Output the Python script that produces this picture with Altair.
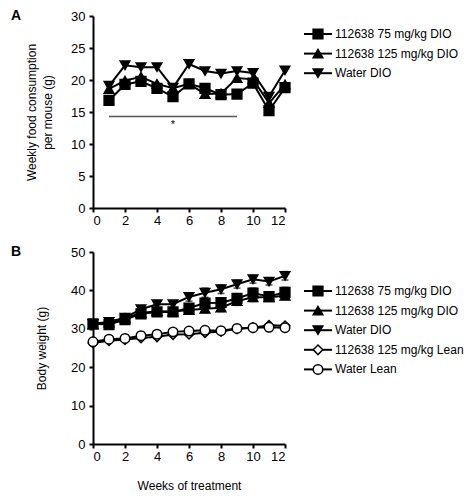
import altair as alt
import pandas as pd

FONT = "Liberation Sans"

# ---------------- Panel A data: weekly food consumption (g) ----------------
weeks_a = list(range(1, 13))
food_75 = [16.8, 19.3, 19.8, 18.7, 17.4, 19.4, 18.7, 17.7, 17.8, 19.5, 15.2, 18.8]
food_125 = [18.6, 19.9, 20.5, 19.4, 18.7, 19.4, 17.8, 17.9, 20.3, 20.1, 16.4, 19.3]
food_water = [19.1, 22.3, 22.0, 22.0, 18.8, 22.5, 21.4, 21.0, 21.4, 21.1, 17.4, 21.5]
sig_start, sig_end, sig_level, sig_label = 1, 9, 14.3, "*"

# ---------------- Panel B data: body weight (g) ----------------
weeks_b = list(range(0, 13))
bw_75 = [31.3, 31.1, 32.4, 33.9, 34.4, 34.4, 35.4, 36.7, 36.8, 37.9, 39.3, 38.4, 39.5]
bw_125 = [31.1, 31.6, 32.8, 34.1, 34.6, 34.5, 34.9, 35.2, 35.5, 37.2, 38.2, 38.2, 38.6]
bw_water = [31.3, 31.8, 32.9, 35.1, 36.4, 36.4, 38.3, 39.4, 40.3, 41.6, 42.9, 42.3, 43.8]
bw_125_lean = [26.3, 26.9, 27.2, 27.6, 27.9, 28.5, 28.6, 29.0, 29.3, 30.0, 30.3, 30.9, 30.8]
bw_water_lean = [26.6, 27.3, 27.5, 28.2, 28.6, 29.2, 29.4, 29.6, 29.5, 30.1, 30.3, 30.4, 30.3]
sem_75 = [0.6, 0.7, 0.7, 0.9, 0.9, 0.9, 1.1, 1.2, 1.2, 1.2, 1.3, 1.2, 1.3]
sem_125 = [0.6, 0.6, 0.7, 0.8, 0.8, 0.8, 0.9, 1.0, 1.0, 1.1, 1.1, 1.0, 1.0]
sem_water = [0.5, 0.6, 0.6, 0.8, 0.9, 0.9, 1.1, 1.2, 1.1, 1.0, 1.0, 0.9, 1.1]
sem_125_lean = [0.3] * 13
sem_water_lean = [0.3] * 13

series_names = [
    "112638 75 mg/kg DIO",
    "112638 125 mg/kg DIO",
    "Water DIO",
    "112638 125 mg/kg Lean",
    "Water Lean",
]
shapes = ["square", "triangle-up", "triangle-down", "diamond", "circle"]
fills = ["black", "black", "black", "white", "white"]
sizes = [95, 90, 90, 60, 50]

# ---------------- build tables ----------------
def long_table(weeks, cols, sems=None):
    rows = []
    for i, (name, vals) in enumerate(cols):
        for j, (w, v) in enumerate(zip(weeks, vals)):
            r = {"week": w, "value": v, "series": name, "order": i}
            if sems is not None:
                r["lo"] = v - sems[i][j]
                r["hi"] = v + sems[i][j]
            rows.append(r)
    return pd.DataFrame(rows)

df_a = long_table(weeks_a, list(zip(series_names[:3], [food_75, food_125, food_water])))
df_b = long_table(
    weeks_b,
    list(zip(series_names, [bw_75, bw_125, bw_water, bw_125_lean, bw_water_lean])),
    [sem_75, sem_125, sem_water, sem_125_lean, sem_water_lean],
)

shape_scale = alt.Scale(domain=series_names, range=shapes)
fill_scale = alt.Scale(domain=series_names, range=fills)
size_scale = alt.Scale(domain=series_names, range=sizes)

W, H = 192, 192
xscale = alt.Scale(domain=[0, 12], nice=False)
xvals = [0, 2, 4, 6, 8, 10, 12]


def panel(df, ydomain, ystep, ytitle, xtitle, letter, ytitle_pad, with_err, extra=()):
    yscale = alt.Scale(domain=ydomain, nice=False)
    yvals = list(range(ydomain[0], ydomain[1] + 1, ystep))
    xax = alt.Axis(values=xvals, titlePadding=17, labelOverlap=False, labelPadding=2)
    yax = alt.Axis(values=yvals, titlePadding=ytitle_pad, labelOverlap=False, labelPadding=4)

    def X(field):
        return alt.X(field, scale=xscale, axis=xax, title=xtitle)

    def Y(field):
        return alt.Y(field, scale=yscale, axis=yax, title=ytitle)

    base = alt.Chart(df)
    line = base.mark_line(color="black", strokeWidth=2).encode(
        x=X("week:Q"), y=Y("value:Q"), detail="series:N")
    pts = base.mark_point(stroke="black", strokeWidth=1.5, opacity=1, fillOpacity=1).encode(
        x=X("week:Q"), y=Y("value:Q"),
        shape=alt.Shape("series:N", scale=shape_scale, legend=None),
        fill=alt.Fill("series:N", scale=fill_scale, legend=None),
        size=alt.Size("series:N", scale=size_scale, legend=None),
    )
    layers = [line]
    if with_err:
        err = base.mark_rule(color="black", strokeWidth=1.5).encode(
            x=X("week:Q"), y=Y("lo:Q"), y2="hi:Q")
        cap_lo = base.mark_tick(color="black", orient="horizontal", size=7, thickness=1.5).encode(
            x=X("week:Q"), y=Y("lo:Q"))
        cap_hi = base.mark_tick(color="black", orient="horizontal", size=7, thickness=1.5).encode(
            x=X("week:Q"), y=Y("hi:Q"))
        layers += [err, cap_lo, cap_hi]
    layers.append(pts)
    for e in extra:
        layers.append(e(X, Y))
    lab = alt.Chart(pd.DataFrame({"t": [letter]})).mark_text(
        font=FONT, fontSize=14, fontWeight="bold", align="center", baseline="middle",
        color="black").encode(x=alt.value(-77), y=alt.value(0), text="t:N")
    layers.append(lab)
    return alt.layer(*layers).properties(width=W, height=H)


def legend(names, first_px, step_px=19.6):
    ld = pd.DataFrame({"series": names, "idx": list(range(len(names)))})
    lo = -first_px / step_px
    hi = lo + H / step_px
    ys = alt.Scale(domain=[lo, hi], reverse=True, nice=False, zero=False)
    y = alt.Y("idx:Q", scale=ys, axis=None)
    base = alt.Chart(ld)
    rule = base.mark_rule(color="black", strokeWidth=2).encode(
        x=alt.value(0), x2=alt.value(28), y=y)
    pts = base.mark_point(stroke="black", strokeWidth=1.5, opacity=1, fillOpacity=1).encode(
        x=alt.value(14), y=y,
        shape=alt.Shape("series:N", scale=shape_scale, legend=None),
        fill=alt.Fill("series:N", scale=fill_scale, legend=None),
        size=alt.Size("series:N", scale=size_scale, legend=None),
    )
    txt = base.mark_text(font=FONT, fontSize=12, align="left", baseline="middle",
                         color="black").encode(x=alt.value(31), y=y, text="series:N")
    return alt.layer(rule, pts, txt).properties(width=140, height=H)


sig = pd.DataFrame({"x0": [sig_start], "x1": [sig_end], "y": [sig_level],
                    "xm": [(sig_start + sig_end) / 2], "lab": [sig_label]})


def sig_rule(X, Y):
    return alt.Chart(sig).mark_rule(color="#555555", strokeWidth=1.5).encode(
        x=X("x0:Q"), x2="x1:Q", y=Y("y:Q"))


def sig_txt(X, Y):
    return alt.Chart(sig).mark_text(font=FONT, fontSize=11, color="black",
                                    baseline="top", dy=3).encode(
        x=X("xm:Q"), y=Y("y:Q"), text="lab:N")


panel_a = panel(df_a, [0, 30], 5, ["Weekly food consumption", "per mouse (g)"], None, "A", 16, False,
                extra=(sig_rule, sig_txt))
panel_b = panel(df_b, [0, 50], 10, "Body weight (g)", "Weeks of treatment", "B", 22, True)

chart = alt.concat(
    panel_a, legend(series_names[:3], 18),
    panel_b, legend(series_names, 39),
    columns=2, spacing={"row": 18, "column": 10},
).properties(
    padding={"left": 2, "top": 1, "right": 0, "bottom": 0}
).configure_view(stroke=None).configure_axis(
    grid=False,
    domainColor="black",
    domainWidth=2,
    tickColor="black",
    tickWidth=2,
    tickSize=4,
    labelColor="black",
    labelFont=FONT,
    labelFontSize=13,
    titleColor="black",
    titleFont=FONT,
    titleFontSize=12,
    titleFontWeight="normal",
    titleLineHeight=16,
)

chart.save("out.html", embed_options={"renderer": "svg", "actions": False})
